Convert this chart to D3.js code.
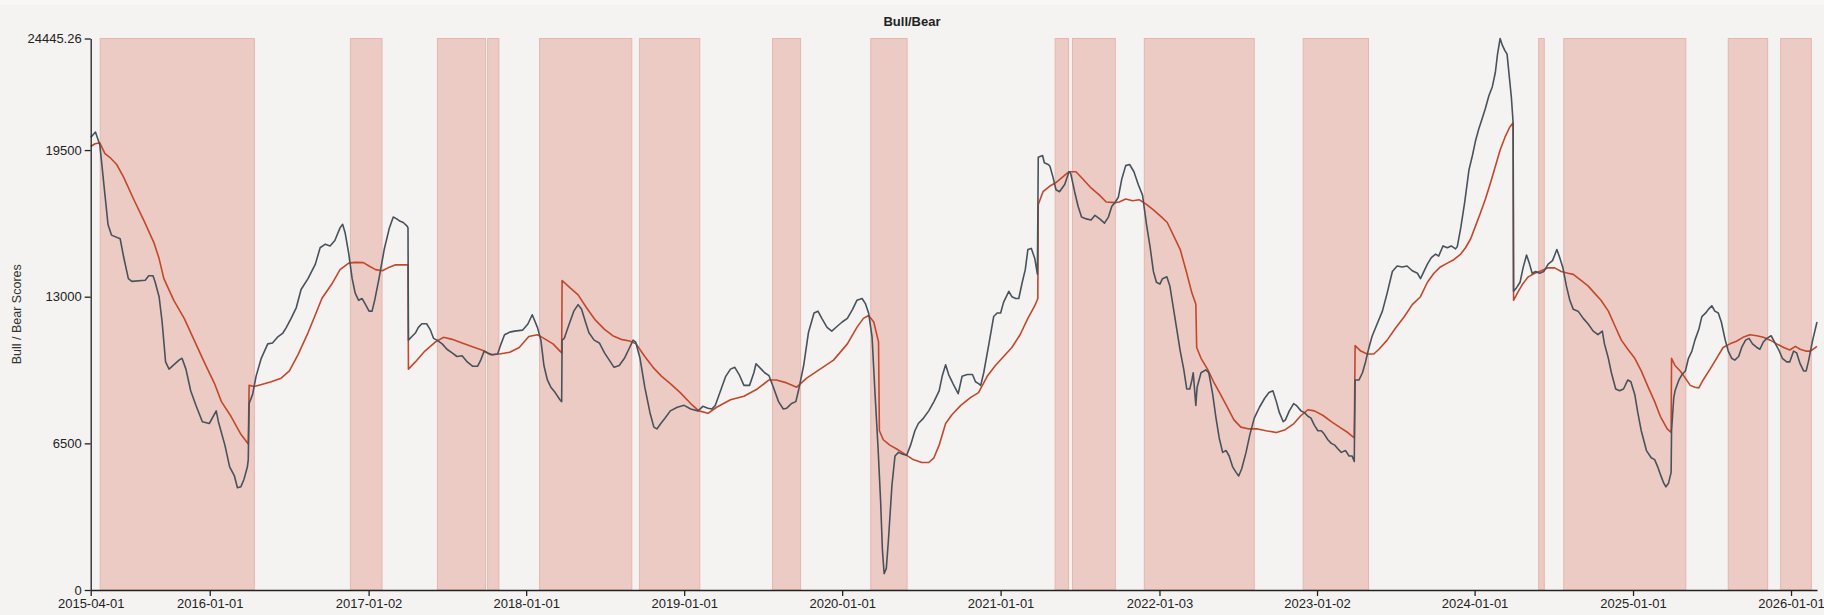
<!DOCTYPE html>
<html>
<head>
<meta charset="utf-8">
<script src="https://cdn.jsdelivr.net/npm/d3@7"></script>
<style>
  html, body { margin: 0; padding: 0; background: #f4f3f1; }
  svg { display: block; font-family: "Liberation Sans", Arial, Helvetica, sans-serif; }
</style>
</head>
<body>
<svg id="chart" width="1824" height="615"></svg>
<script>
// ---------------- data ----------------
const chartTitle = "Bull/Bear";
const yAxisTitle = "Bull / Bear Scores";
const yTickValues = [0, 6500, 13000, 19500, 24445.26];
const xTickDates = ["2015-04-01","2016-01-01","2017-01-02","2018-01-01","2019-01-01","2020-01-01","2021-01-01","2022-01-03","2023-01-02","2024-01-01","2025-01-01","2026-01-01"];
const dateRange = ["2015-04-01", "2026-03-02"];

// shaded (bear) periods: [start, end]
const bearPeriods = [
  ["2015-04-23","2016-04-13"],["2016-11-21","2017-02-02"],["2017-06-10","2017-09-29"],["2017-10-04","2017-10-30"],
  ["2018-02-01","2018-09-02"],["2018-09-20","2019-02-06"],["2019-07-24","2019-09-27"],["2020-03-07","2020-05-30"],
  ["2021-05-07","2021-06-07"],["2021-06-16","2021-09-23"],["2021-11-29","2022-08-10"],["2022-12-01","2023-05-01"],
  ["2024-05-28","2024-06-10"],["2024-07-25","2025-05-03"],["2025-08-09","2025-11-08"],["2025-12-08","2026-02-17"]
];

// Bull/Bear score (dark line)
const bullBearScore = [
["2015-04-01",20060],["2015-04-12",20300],["2015-04-22",19740],["2015-05-04",17500],["2015-05-11",16200],["2015-05-19",15730],["2015-06-08",15570],["2015-06-16",14770],["2015-06-27",13800],["2015-07-05",13680],["2015-08-05",13730],["2015-08-13",13930],["2015-08-23",13930],["2015-08-28",13640],["2015-09-06",13000],["2015-09-13",11880],["2015-09-21",10110],["2015-09-29",9790],["2015-10-22",10190],["2015-10-29",10270],["2015-11-07",9790],["2015-11-18",8830],["2015-11-30",8190],["2015-12-15",7460],["2015-12-31",7380],["2016-01-16",7940],["2016-01-21",7460],["2016-02-05",6420],["2016-02-16",5460],["2016-02-27",5055],["2016-03-05",4530],["2016-03-13",4580],["2016-03-20",4900],["2016-03-28",5460],["2016-03-30",5780],["2016-04-01",8270],["2016-04-09",8670],["2016-04-17",9470],["2016-04-29",10270],["2016-05-14",10910],["2016-05-25",10950],["2016-06-07",11235],["2016-06-18",11390],["2016-06-26",11640],["2016-07-07",12040],["2016-07-19",12520],["2016-07-30",13320],["2016-08-15",13800],["2016-09-01",14445],["2016-09-12",15170],["2016-09-24",15330],["2016-10-05",15250],["2016-10-16",15490],["2016-10-28",16050],["2016-11-03",16210],["2016-11-09",15810],["2016-11-17",14925],["2016-11-25",13800],["2016-12-02",13160],["2016-12-10",12840],["2016-12-18",12920],["2016-12-25",12680],["2017-01-03",12360],["2017-01-10",12360],["2017-01-16",12840],["2017-01-26",13800],["2017-02-07",15090],["2017-02-19",16050],["2017-02-28",16530],["2017-03-08",16450],["2017-03-16",16340],["2017-03-23",16290],["2017-04-01",16130],["2017-04-03",16050],["2017-04-04",11075],["2017-04-12",11235],["2017-04-20",11390],["2017-04-27",11640],["2017-05-05",11800],["2017-05-16",11800],["2017-05-24",11555],["2017-06-01",11155],["2017-06-09",11075],["2017-06-21",10910],["2017-07-02",10670],["2017-07-14",10510],["2017-07-25",10350],["2017-08-06",10380],["2017-08-18",10110],["2017-08-30",9920],["2017-09-11",9920],["2017-09-18",10190],["2017-09-26",10590],["2017-10-04",10510],["2017-10-15",10430],["2017-10-27",10460],["2017-11-04",10910],["2017-11-12",11315],["2017-11-24",11430],["2017-12-05",11475],["2017-12-24",11520],["2018-01-05",11790],
["2018-01-15",12200],["2018-01-27",11640],["2018-02-04",11075],["2018-02-11",9950],["2018-02-19",9310],["2018-02-27",8990],["2018-03-09",8750],["2018-03-20",8430],["2018-03-24",8350],["2018-03-25",11075],["2018-03-30",11155],["2018-04-09",11715],["2018-04-21",12360],["2018-05-01",12650],["2018-05-09",12440],["2018-05-18",11880],["2018-05-26",11400],["2018-06-07",11075],["2018-06-19",10950],["2018-07-01",10510],["2018-07-12",10190],["2018-07-23",9870],["2018-08-04",9950],["2018-08-16",10270],["2018-08-28",10750],["2018-09-05",11075],["2018-09-11",10990],["2018-09-21",10270],["2018-10-02",8990],["2018-10-14",7860],["2018-10-23",7220],["2018-10-30",7140],["2018-11-08",7380],["2018-11-18",7620],["2018-11-30",7940],["2018-12-16",8100],["2019-01-01",8185],["2019-01-16",8025],["2019-02-02",7940],["2019-02-13",8140],["2019-02-25",8060],["2019-03-06",8025],["2019-03-14",8185],["2019-03-26",8830],["2019-04-07",9470],["2019-04-18",9790],["2019-04-28",9870],["2019-05-08",9550],["2019-05-19",9070],["2019-06-01",9070],["2019-06-11",9630],["2019-06-16",10030],["2019-06-28",9790],["2019-07-06",9630],["2019-07-16",9500],["2019-07-26",8990],["2019-08-07",8350],["2019-08-18",8025],["2019-08-26",8060],["2019-09-06",8265],["2019-09-16",8350],["2019-09-22",8830],["2019-10-04",9950],["2019-10-15",11400],["2019-10-28",12280],["2019-11-06",12360],["2019-11-15",12040],["2019-11-27",11640],["2019-12-08",11475],["2019-12-20",11680],["2020-01-01",11880],["2020-01-13",12040],["2020-01-25",12440],["2020-02-04",12840],["2020-02-16",12920],["2020-02-24",12680],["2020-03-02",12280],["2020-03-10",11235],["2020-03-17",8670],["2020-03-24",6260],["2020-03-30",3850],["2020-04-03",1765],["2020-04-07",720],["2020-04-12",960],["2020-04-17",2250],["2020-04-25",4650],["2020-05-02",5940],["2020-05-10",6100],["2020-05-20",6020],["2020-05-29",5970],["2020-06-07",6420],["2020-06-17",7060],["2020-06-25",7380],["2020-07-07",7620],["2020-07-19",7940],["2020-07-31",8350],["2020-08-12",8830],["2020-08-19",9470],["2020-08-27",9980],["2020-09-03",9550],["2020-09-13",9150],["2020-09-25",8700],["2020-10-04",9470],["2020-10-16",9550],["2020-10-28",9550],["2020-11-04",9230],["2020-11-11",9150],
["2020-11-16",9070],["2020-11-23",9630],["2020-12-05",10910],["2020-12-16",12120],["2020-12-24",12280],["2021-01-01",12280],["2021-01-08",12760],["2021-01-20",13240],["2021-01-27",13000],["2021-02-05",12920],["2021-02-12",12920],["2021-02-20",13640],["2021-02-27",14200],["2021-03-05",15090],["2021-03-13",15140],["2021-03-21",14690],["2021-03-27",14000],["2021-03-29",19180],["2021-04-08",19260],["2021-04-12",18940],["2021-04-21",18860],["2021-04-25",18780],["2021-05-02",18300],["2021-05-09",17740],["2021-05-17",17655],["2021-05-29",17975],["2021-06-08",18540],["2021-06-12",18460],["2021-06-21",17655],["2021-06-29",17010],["2021-07-07",16530],["2021-07-18",16450],["2021-07-29",16400],["2021-08-07",16610],["2021-08-18",16450],["2021-08-29",16260],["2021-09-07",16530],["2021-09-15",17010],["2021-09-22",17170],["2021-09-30",17410],["2021-10-08",18220],["2021-10-17",18810],["2021-10-26",18860],["2021-11-05",18540],["2021-11-15",17975],["2021-11-25",17490],["2021-12-04",16210],["2021-12-12",15250],["2021-12-20",14120],["2021-12-27",13640],["2022-01-04",13560],["2022-01-10",13800],["2022-01-20",13880],["2022-01-27",13480],["2022-02-04",12520],["2022-02-12",11555],["2022-02-20",10590],["2022-02-28",9790],["2022-03-07",8910],["2022-03-14",8910],["2022-03-19",9310],["2022-03-22",9630],["2022-03-28",8185],["2022-03-31",8990],["2022-04-09",9630],["2022-04-20",9760],["2022-04-27",9630],["2022-05-06",8670],["2022-05-13",7700],["2022-05-21",6740],["2022-05-29",6100],["2022-06-06",6180],["2022-06-13",5940],["2022-06-21",5460],["2022-06-29",5215],["2022-07-05",5055],["2022-07-12",5375],["2022-07-22",6100],["2022-07-31",6900],["2022-08-10",7620],["2022-08-22",8100],["2022-09-03",8500],["2022-09-13",8750],["2022-09-22",8830],["2022-09-30",8350],["2022-10-07",7860],["2022-10-16",7460],["2022-10-21",7540],["2022-10-30",7940],["2022-11-09",8265],["2022-11-15",8185],["2022-11-26",7940],["2022-12-04",7860],["2022-12-12",7700],["2022-12-19",7620],["2022-12-27",7300],["2023-01-04",7060],["2023-01-12",7060],["2023-01-19",6900],["2023-01-27",6660],["2023-02-04",6500],["2023-02-12",6420],["2023-02-19",6260],["2023-02-27",6100],["2023-03-09",6180],["2023-03-17",5940],["2023-03-24",5940],["2023-03-29",5700],["2023-03-31",9310],["2023-04-09",9310],["2023-04-17",9630],["2023-04-24",10110],["2023-05-02",10750],["2023-05-09",11235],["2023-05-21",11800],["2023-06-02",12360],["2023-06-13",13160],["2023-06-25",14120],["2023-07-06",14360],["2023-07-18",14320],["2023-07-29",14360],["2023-08-10",14150],["2023-08-22",14040],
["2023-08-29",13800],["2023-09-06",14120],["2023-09-14",14445],["2023-09-23",14730],["2023-10-03",14890],["2023-10-10",14800],["2023-10-20",15250],["2023-10-30",15170],["2023-11-08",15250],["2023-11-18",15120],["2023-11-22",15220],["2023-11-30",16050],["2023-12-09",17170],["2023-12-19",18620],["2023-12-27",19260],["2024-01-03",19900],["2024-01-11",20460],["2024-01-18",20865],["2024-01-26",21350],["2024-02-03",21910],["2024-02-11",22310],["2024-02-18",22950],["2024-02-23",23750],["2024-02-29",24445.26],["2024-03-05",24150],["2024-03-11",23910],["2024-03-16",23750],["2024-03-21",22790],["2024-03-26",21830],["2024-03-30",20700],["2024-03-31",13240],["2024-04-07",13400],["2024-04-15",13640],["2024-04-22",14280],["2024-04-30",14850],["2024-05-07",14445],["2024-05-13",14040],["2024-05-21",14120],["2024-05-30",14040],["2024-06-09",14120],["2024-06-19",14445],["2024-06-29",14600],["2024-07-09",15090],["2024-07-15",14770],["2024-07-23",14280],["2024-07-31",13480],["2024-08-08",12840],["2024-08-16",12440],["2024-08-27",12360],["2024-09-08",12040],["2024-09-19",11800],["2024-10-01",11475],["2024-10-12",11315],["2024-10-22",11475],["2024-10-27",10910],["2024-11-05",10270],["2024-11-12",9630],["2024-11-22",8910],["2024-12-01",8830],["2024-12-10",8910],["2024-12-20",9310],["2024-12-27",9230],["2025-01-05",8670],["2025-01-12",7860],["2025-01-20",7060],["2025-02-01",6180],["2025-02-12",5860],["2025-02-20",5780],["2025-02-27",5460],["2025-03-05",5135],["2025-03-13",4735],["2025-03-18",4575],["2025-03-24",4735],["2025-03-30",5215],["2025-03-31",7060],["2025-04-05",8500],["2025-04-08",8830],["2025-04-17",9310],["2025-04-24",9550],["2025-05-02",9710],["2025-05-09",10270],["2025-05-17",10590],["2025-05-24",11075],["2025-06-02",11555],["2025-06-09",12120],["2025-06-18",12280],["2025-06-24",12440],["2025-07-02",12600],["2025-07-09",12360],["2025-07-17",12280],["2025-07-24",11880],["2025-08-02",11075],["2025-08-09",10590],["2025-08-17",10270],["2025-08-24",10190],["2025-09-02",10350],["2025-09-09",10750],["2025-09-18",11075],["2025-09-26",11155],["2025-10-04",10910],["2025-10-14",10750],["2025-10-21",10670],["2025-10-29",10990],["2025-11-06",11155],["2025-11-16",11270],["2025-11-24",10990],["2025-12-03",10670],["2025-12-12",10270],["2025-12-22",10110],["2025-12-29",10110],["2026-01-07",10590],["2026-01-14",10510],["2026-01-22",10030],["2026-01-30",9710],["2026-02-05",9710],["2026-02-10",10110],["2026-02-20",11075],["2026-03-02",11880]
];

// moving average of the score (red line)
const bullBearAverage = [
["2015-04-01",19660],["2015-04-11",19780],["2015-04-22",19820],["2015-05-04",19340],["2015-05-15",19180],["2015-05-31",18860],["2015-06-16",18300],["2015-07-09",17330],["2015-08-02",16370],["2015-08-25",15400],["2015-09-06",14690],["2015-09-17",13800],["2015-10-10",12840],["2015-11-03",12040],["2015-11-26",11075],["2015-12-19",10110],["2016-01-12",9150],["2016-01-28",8350],["2016-02-19",7700],["2016-03-13",6900],["2016-03-30",6470],["2016-04-01",9070],["2016-04-13",9020],["2016-05-02",9120],["2016-05-22",9230],["2016-06-14",9390],["2016-07-03",9710],["2016-07-23",10430],["2016-08-15",11400],["2016-09-01",12200],["2016-09-16",12920],["2016-10-09",13560],["2016-10-28",14200],["2016-11-17",14490],["2016-12-02",14520],["2016-12-21",14510],["2017-01-03",14360],["2017-01-18",14200],["2017-02-03",14150],["2017-02-19",14310],["2017-03-04",14410],["2017-03-19",14410],["2017-04-03",14410],["2017-04-04",9790],["2017-04-20",10110],["2017-05-12",10590],["2017-06-05",10990],["2017-06-24",11200],["2017-07-14",11110],["2017-08-06",10950],["2017-08-30",10780],["2017-09-22",10625],["2017-10-11",10430],["2017-10-31",10460],["2017-11-24",10540],["2017-12-16",10750],
["2018-01-07",11235],["2018-01-27",11315],["2018-02-11",11155],["2018-03-04",10910],["2018-03-24",10510],["2018-03-25",13720],["2018-04-12",13400],["2018-05-01",13080],["2018-05-20",12520],["2018-06-10",11960],["2018-07-01",11555],["2018-07-20",11270],["2018-08-08",11110],["2018-08-28",11040],["2018-09-12",10910],["2018-10-02",10350],["2018-10-21",9870],["2018-11-10",9470],["2018-11-30",9150],["2018-12-23",8750],["2019-01-16",8265],["2019-02-04",7940],["2019-02-25",7830],["2019-03-17",8100],["2019-04-18",8430],["2019-05-19",8590],["2019-06-19",8910],["2019-07-16",9310],["2019-08-02",9310],["2019-08-26",9180],["2019-09-18",8990],["2019-10-11",9390],["2019-11-11",9790],["2019-12-12",10190],["2020-01-13",10910],["2020-02-04",11640],["2020-02-19",12040],["2020-03-02",12170],["2020-03-14",11880],["2020-03-25",11000],["2020-03-27",7060],["2020-04-05",6660],["2020-04-20",6420],["2020-05-05",6260],["2020-05-25",6020],["2020-06-13",5780],["2020-07-03",5650],["2020-07-19",5650],["2020-07-31",5860],["2020-08-12",6420],["2020-08-27",7380],["2020-09-11",7780],["2020-10-01",8185],["2020-10-24",8540],["2020-11-11",8750],
["2020-12-01",9470],["2020-12-20",9950],["2021-01-08",10350],["2021-01-27",10750],["2021-02-15",11315],["2021-03-05",12040],["2021-03-21",12600],["2021-03-28",12920],["2021-03-29",17090],["2021-04-09",17655],["2021-04-24",17895],["2021-05-09",18060],["2021-05-24",18300],["2021-06-08",18540],["2021-06-24",18540],["2021-07-10",18220],["2021-07-29",17820],["2021-08-18",17490],["2021-09-02",17200],["2021-09-22",17170],["2021-10-02",17200],["2021-10-17",17330],["2021-11-02",17250],["2021-11-17",17300],["2021-12-04",17090],["2021-12-20",16850],["2022-01-08",16530],["2022-01-21",16290],["2022-02-04",15730],["2022-02-20",15090],["2022-03-06",14120],["2022-03-19",13160],["2022-03-28",12680],["2022-03-30",10750],["2022-04-09",10270],["2022-04-24",9790],["2022-05-08",9230],["2022-05-24",8670],["2022-06-09",8100],["2022-06-24",7540],["2022-07-10",7220],["2022-07-29",7140],["2022-08-18",7140],["2022-09-06",7060],["2022-09-30",6980],["2022-10-19",7090],["2022-11-08",7350],["2022-11-26",7735],["2022-12-12",7990],["2022-12-27",7940],["2023-01-16",7735],["2023-02-04",7460],["2023-02-23",7220],["2023-03-14",6980],["2023-03-29",6740],["2023-03-31",10830],["2023-04-13",10590],["2023-04-28",10460],["2023-05-13",10460],["2023-05-25",10670],["2023-06-13",11075],["2023-07-02",11600],["2023-07-22",12100],["2023-08-10",12650],
["2023-08-29",13000],["2023-09-14",13640],["2023-09-29",14040],["2023-10-14",14320],["2023-10-30",14490],["2023-11-14",14640],["2023-11-30",14890],["2023-12-11",15170],["2023-12-23",15570],["2024-01-03",16130],["2024-01-14",16690],["2024-01-26",17330],["2024-02-07",18060],["2024-02-18",18780],["2024-02-29",19500],["2024-03-11",20060],["2024-03-22",20510],["2024-03-30",20710],["2024-03-31",12840],["2024-04-11",13240],["2024-04-22",13590],["2024-05-04",13880],["2024-05-19",14040],["2024-06-03",14150],["2024-06-19",14280],["2024-07-04",14280],["2024-07-19",14120],["2024-08-04",14040],["2024-08-16",13990],["2024-09-03",13720],["2024-09-19",13480],["2024-10-04",13160],["2024-10-19",12840],["2024-11-05",12360],["2024-11-20",11715],["2024-12-05",11075],["2024-12-20",10670],["2025-01-05",10270],["2025-01-20",9710],["2025-02-05",8990],["2025-02-20",8350],["2025-03-05",7700],["2025-03-21",7140],["2025-03-30",6980],["2025-03-31",10270],["2025-04-08",9950],["2025-04-20",9710],["2025-05-02",9390],["2025-05-13",9070],["2025-05-24",8990],["2025-06-02",8960],["2025-06-12",9310],["2025-06-28",9790],["2025-07-13",10270],["2025-07-28",10750],["2025-08-13",10910],["2025-08-28",11025],["2025-09-12",11200],["2025-09-28",11315],["2025-10-14",11270],["2025-10-29",11200],["2025-11-14",11075],["2025-11-29",10910],["2025-12-15",10750],["2025-12-29",10640],["2026-01-11",10800],["2026-01-22",10670],["2026-02-04",10590],["2026-02-15",10590],["2026-03-02",10800]
];

// ---------------- chart ----------------
const W = 1824, H = 615;
const plot = { left: 90.7, right: 1817, top: 38.5, bottom: 590 };
const parse = d3.utcParse("%Y-%m-%d");
const fmt = d3.utcFormat("%Y-%m-%d");

const svg = d3.select("#chart");
svg.append("rect").attr("width", W).attr("height", H).attr("fill", "#f4f3f1");
svg.append("rect").attr("width", W).attr("height", 5).attr("fill", "#f8f7f5");

const x = d3.scaleUtc().domain(dateRange.map(parse)).range([plot.left, plot.right]);
const y = d3.scaleLinear().domain([0, d3.max(yTickValues)]).range([plot.bottom, plot.top]);

// bear period shading
svg.append("g").selectAll("rect").data(bearPeriods).join("rect")
  .attr("x", d => x(parse(d[0])))
  .attr("width", d => x(parse(d[1])) - x(parse(d[0])))
  .attr("y", y(d3.max(yTickValues)))
  .attr("height", y(0) - y(d3.max(yTickValues)))
  .attr("fill", "#edcbc5")
  .attr("stroke", "#e6b6ae")
  .attr("stroke-width", 1);

const line = d3.line().x(d => x(parse(d[0]))).y(d => y(d[1])).curve(d3.curveLinear);

svg.append("path").datum(bullBearAverage)
  .attr("d", line).attr("fill", "none")
  .attr("stroke", "#c2472b").attr("stroke-width", 1.6).attr("stroke-linejoin", "round");

svg.append("path").datum(bullBearScore)
  .attr("d", line).attr("fill", "none")
  .attr("stroke", "#48525c").attr("stroke-width", 1.6).attr("stroke-linejoin", "round");

// axes
const xAxis = d3.axisBottom(x)
  .tickValues(xTickDates.map(parse))
  .tickFormat(fmt)
  .tickSizeOuter(0);
const gx = svg.append("g").attr("transform", `translate(0,${plot.bottom})`).call(xAxis);

const yAxis = d3.axisLeft(y)
  .tickValues(yTickValues)
  .tickFormat(d => String(d))
  .tickSizeOuter(0);
const gy = svg.append("g").attr("transform", `translate(${plot.left},0)`).call(yAxis);

[gx, gy].forEach(g => {
  g.selectAll("text").attr("font-size", 13).attr("fill", "#222").attr("font-family", "\"Liberation Sans\", Arial, sans-serif");
  g.selectAll("line").attr("stroke", "#222").attr("stroke-width", 1.3);
  g.select(".domain").attr("stroke", "#222").attr("stroke-width", 1.3);
});

// title
svg.append("text")
  .attr("x", W / 2).attr("y", 26)
  .attr("text-anchor", "middle")
  .attr("font-size", 13).attr("font-weight", "bold").attr("fill", "#222")
  .text(chartTitle);

// y axis title
svg.append("text")
  .attr("transform", `translate(21,${(plot.top + plot.bottom) / 2}) rotate(-90)`)
  .attr("text-anchor", "middle")
  .attr("font-size", 12.5).attr("fill", "#333")
  .text(yAxisTitle);
</script>
</body>
</html>
